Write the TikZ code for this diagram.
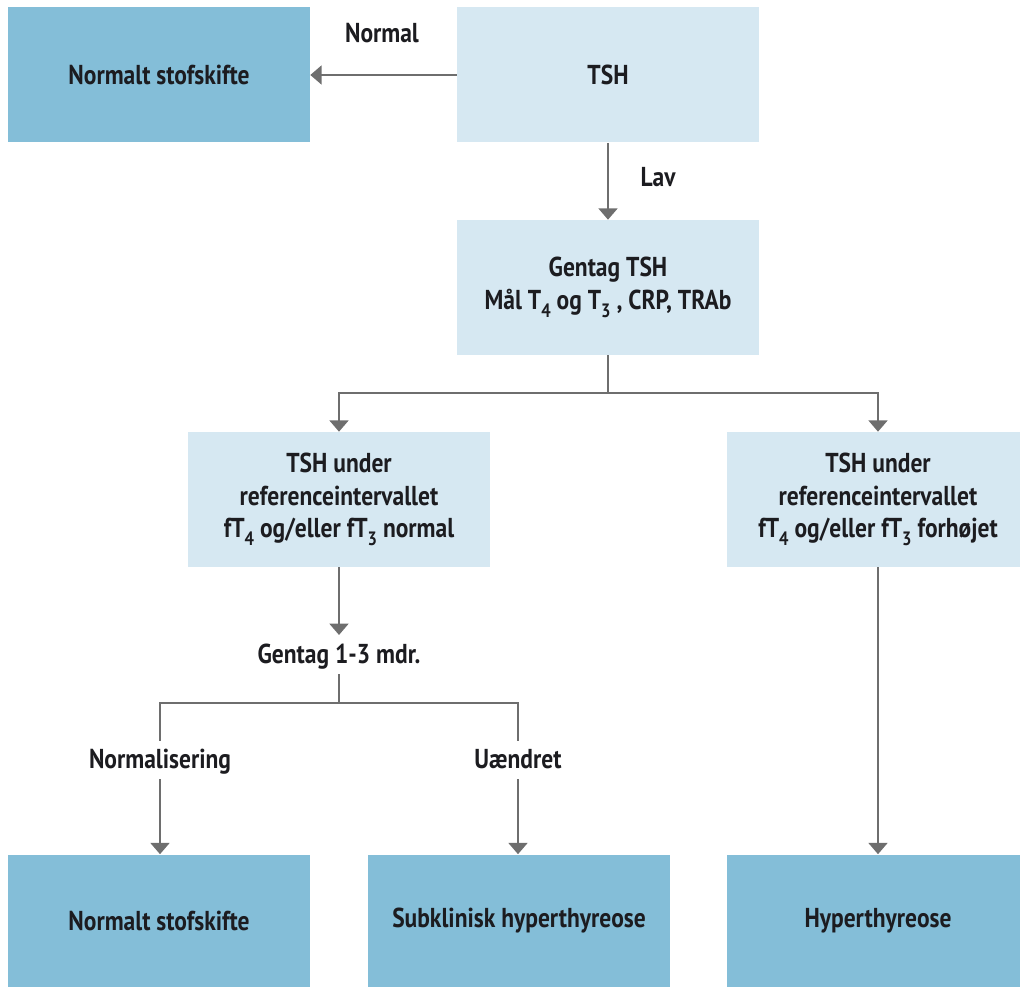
\documentclass[tikz,border=0pt]{standalone}
\usepackage{fontspec}
\setmainfont{PT Sans}[FakeStretch=0.86]
\usetikzlibrary{arrows.meta,calc}
\definecolor{darkfill}{HTML}{84BED8}
\definecolor{lightfill}{HTML}{D6E8F2}
\definecolor{arrowgray}{HTML}{6E6E6E}
\definecolor{txt}{HTML}{1C1C20}
\newcommand{\lsub}[1]{\raisebox{-0.6ex}{\fontsize{14.5}{14.5}\selectfont #1}}
\begin{document}
\begin{tikzpicture}[x=0.75pt,y=-0.75pt,
  box/.style={inner sep=0pt, minimum width=226.5pt, minimum height=101.25pt, align=center,
    font=\fontsize{20.5}{24.5}\selectfont\bfseries, text=txt},
  darkbox/.style={box, fill=darkfill},
  lightbox/.style={box, fill=lightfill},
  lbl/.style={font=\fontsize{20.5}{24}\selectfont\bfseries, text=txt, inner sep=0pt, anchor=base},
  conn/.style={draw=arrowgray, line width=2.2pt},
  arrow/.style={conn, -{Triangle[width=14pt,length=8.5pt]}}]
\useasboundingbox (0,0) rectangle (1020,987);
% boxes
\node[darkbox] (n1) at (159,75) {Normalt stofskifte};
\node[lightbox] (tsh) at (608,75) {TSH};
\node[lightbox] (gen) at (608,287.5) {Gentag TSH\\Mål T\lsub{4} og T\lsub{3} , CRP, TRAb};
\node[lightbox] (lm) at (339,499.5) {TSH under\\referenceintervallet\\fT\lsub{4} og/eller fT\lsub{3} normal};
\node[lightbox] (rm) at (878,499.5) {TSH under\\referenceintervallet\\fT\lsub{4} og/eller fT\lsub{3} forhøjet};
\node[darkbox, minimum height=99.75pt] (b1) at (159,921) {Normalt stofskifte};
\node[darkbox, minimum height=99.75pt] (b2) at (519,921) {Subklinisk hyperthyreose};
\node[darkbox, minimum height=99.75pt] (b3) at (878,921) {Hyperthyreose};
% labels
\node[lbl] (lnormal) at (382,43) {Normal};
\node[lbl] (llav) at (658,187) {Lav};
\node[lbl] (lg13) at (339,663) {Gentag 1-3 mdr.};
\node[lbl] (lnorm) at (160,768) {Normalisering};
\node[lbl] (luend) at (518,768) {Uændret};
% junction coordinates
\coordinate (j1) at (608,393);
\coordinate (j2) at (339,703);
% connectors
\draw[arrow] (tsh.west) -- (n1.east);
\draw[arrow] (tsh.south) -- (gen.north);
\draw[conn] (gen.south) -- (j1);
\draw[arrow] (j1) -| (lm.north);
\draw[arrow] (j1) -| (rm.north);
\draw[arrow] (lm.south) -- ($(lg13.base)+(0,-28)$);
\draw[conn] ($(lg13.base)+(0,11)$) -- (j2);
\draw[conn] (j2) -| ($(lnorm.base)+(0,-27)$);
\draw[conn] (j2) -| ($(luend.base)+(0,-27)$);
\draw[arrow] ($(lnorm.base)+(0,11)$) -- (lnorm.base |- b1.north);
\draw[arrow] ($(luend.base)+(0,11)$) -- (luend.base |- b2.north);
\draw[arrow] (rm.south) -- (b3.north);
\end{tikzpicture}
\end{document}
